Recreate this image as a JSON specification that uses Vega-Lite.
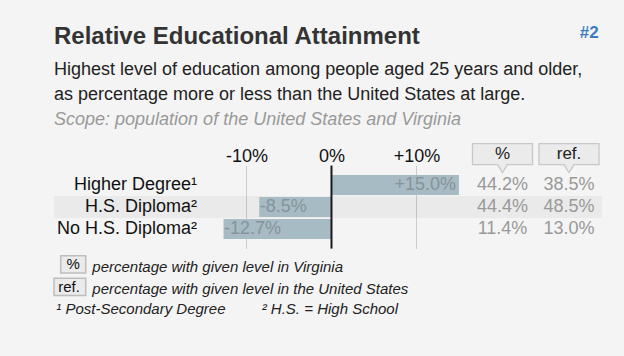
{
  "$schema": "https://vega.github.io/schema/vega-lite/v6.json",
  "background": "#f4f4f4",
  "padding": {"left": 50, "right": 22, "top": 24, "bottom": 40},
  "config": {
    "font": "Liberation Sans",
    "view": {"stroke": null},
    "locale": {"number": {"decimal": ".", "thousands": ",", "grouping": [3], "currency": ["$", ""], "minus": "-"}}
  },
  "datasets": {
    "rows": [
      {"level": "Higher Degree¹", "diff": 0.150, "va": 0.442, "us": 0.385},
      {"level": "H.S. Diploma²", "diff": -0.085, "va": 0.444, "us": 0.485},
      {"level": "No H.S. Diploma²", "diff": -0.127, "va": 0.114, "us": 0.130}
    ],
    "foot": [
      {"line": "va", "key": "%", "text": "percentage with given level in Virginia"},
      {"line": "us", "key": "ref.", "text": "percentage with given level in the United States"},
      {"line": "notes", "key": "1", "text": "¹ Post-Secondary Degree"},
      {"line": "notes", "key": "2", "text": "² H.S. = High School"}
    ]
  },
  "title": {"text": "#2", "anchor": "end", "frame": "bounds", "offset": -17.3, "dx": -3.4, "fontSize": 17, "fontWeight": "bold", "color": "#3b7dc4"},
  "spacing": 5.55,
  "vconcat": [
    {
      "width": 544, "height": 1,
      "data": {"values": []},
      "mark": "text",
      "title": {
        "text": "Relative Educational Attainment",
        "subtitle": ["Highest level of education among people aged 25 years and older,", "as percentage more or less than the United States at large."],
        "anchor": "start", "fontSize": 24, "fontWeight": "bold", "color": "#333333",
        "subtitleFontSize": 18, "subtitleColor": "#222222", "subtitleLineHeight": 25, "subtitlePadding": 12,
        "offset": 0
      }
    },
    {
      "spacing": 2.5,
      "vconcat": [
        {
          "title": {"text": "Scope: population of the United States and Virginia", "anchor": "start", "fontStyle": "italic", "fontWeight": "normal", "fontSize": 18, "color": "#999999", "offset": 11.7},
          "columns": 4,
          "align": "each",
          "bounds": "flush",
          "spacing": {"row": 1, "column": 0},
          "concat": [
            {"width": 150, "height": 21, "data": {"values": []}, "mark": "text"},
            {"width": 265, "height": 21, "data": {"values": []}, "mark": "text"},
            {
              "width": 67, "height": 21,
              "data": {"values": [{"h": "%"}]},
              "layer": [
                {"mark": {"type": "point", "shape": "M-30,-10.5H30V10.5H5L0,18.5L-5,10.5H-30Z", "size": 4, "filled": true, "fill": "#ebebeb", "stroke": "#c8c8c8", "strokeWidth": 1.3, "opacity": 1}},
                {"mark": {"type": "text", "fontSize": 17, "color": "#222222"}, "encoding": {"text": {"field": "h"}}}
              ]
            },
            {
              "width": 66, "height": 21,
              "data": {"values": [{"h": "ref."}]},
              "layer": [
                {"mark": {"type": "point", "shape": "M-30,-10.5H30V10.5H5L0,18.5L-5,10.5H-30Z", "size": 4, "filled": true, "fill": "#ebebeb", "stroke": "#c8c8c8", "strokeWidth": 1.3, "opacity": 1}},
                {"mark": {"type": "text", "fontSize": 17, "color": "#222222"}, "encoding": {"text": {"field": "h"}}}
              ]
            },
            {
              "width": 150, "height": 83,
              "data": {"name": "rows"},
              "transform": [{"filter": "datum.level === 'H.S. Diploma²'"}],
              "mark": {"type": "rect", "color": "#000000", "opacity": 0.04},
              "encoding": {
                "y": {"field": "level", "type": "nominal", "sort": null, "axis": null,
                      "scale": {"domain": ["Higher Degree¹", "H.S. Diploma²", "No H.S. Diploma²"], "paddingInner": 0, "paddingOuter": 0.386}}
              }
            },
            {
              "width": 265, "height": 83,
              "data": {"name": "rows"},
              "encoding": {
                "y": {"field": "level", "type": "nominal", "sort": null,
                      "scale": {"domain": ["Higher Degree¹", "H.S. Diploma²", "No H.S. Diploma²"], "paddingInner": 0, "paddingOuter": 0.386},
                      "axis": {"title": null, "domain": false, "ticks": false, "labelFontSize": 18, "labelColor": "#111111", "labelPadding": 7.5, "labelLimit": 300}}
              },
              "layer": [
                {
                  "transform": [{"filter": "datum.level === 'H.S. Diploma²'"}],
                  "mark": {"type": "rect", "color": "#000000", "opacity": 0.04}
                },
                {
                  "mark": {"type": "bar", "color": "#a6bbc4", "height": {"band": 0.91}},
                  "encoding": {
                    "x": {"field": "diff", "type": "quantitative",
                          "scale": {"domain": [-0.15, 0.1618], "nice": false, "zero": false},
                          "axis": {"orient": "top", "values": [-0.1, 0, 0.1],
                                   "labelExpr": "(datum.value < 0 ? '-' : datum.value > 0 ? '+' : '') + format(abs(datum.value), '.0%')",
                                   "grid": true, "gridColor": "#cccccc", "domain": false, "ticks": false,
                                   "labelFontSize": 18, "labelColor": "#111111", "labelPadding": 0, "title": null}}
                  }
                },
                {
                  "data": {"values": [{"zero": 0}]},
                  "mark": {"type": "rule", "color": "#1a1a1a", "strokeWidth": 2},
                  "encoding": {"x": {"field": "zero", "type": "quantitative"}, "y": null}
                },
                {
                  "transform": [{"filter": "datum.diff > 0"}],
                  "mark": {"type": "text", "align": "right", "dx": -3, "fontSize": 18, "color": "#87939a"},
                  "encoding": {
                    "x": {"field": "diff", "type": "quantitative"},
                    "text": {"field": "diff", "type": "quantitative", "format": "+.1%"}
                  }
                },
                {
                  "transform": [{"filter": "datum.diff < 0"}],
                  "mark": {"type": "text", "align": "left", "dx": 0.5, "fontSize": 18, "color": "#87939a"},
                  "encoding": {
                    "x": {"field": "diff", "type": "quantitative"},
                    "text": {"field": "diff", "type": "quantitative", "format": "+.1%"}
                  }
                }
              ]
            },
            {
              "width": 67, "height": 83,
              "data": {"name": "rows"},
              "encoding": {
                "y": {"field": "level", "type": "nominal", "sort": null, "axis": null,
                      "scale": {"domain": ["Higher Degree¹", "H.S. Diploma²", "No H.S. Diploma²"], "paddingInner": 0, "paddingOuter": 0.386}}
              },
              "layer": [
                {
                  "transform": [{"filter": "datum.level === 'H.S. Diploma²'"}],
                  "mark": {"type": "rect", "color": "#000000", "opacity": 0.04}
                },
                {
                  "mark": {"type": "text", "fontSize": 18, "color": "#999999"},
                  "encoding": {"text": {"field": "va", "type": "quantitative", "format": ".1%"}}
                }
              ]
            },
            {
              "width": 66, "height": 83,
              "data": {"name": "rows"},
              "encoding": {
                "y": {"field": "level", "type": "nominal", "sort": null, "axis": null,
                      "scale": {"domain": ["Higher Degree¹", "H.S. Diploma²", "No H.S. Diploma²"], "paddingInner": 0, "paddingOuter": 0.386}}
              },
              "layer": [
                {
                  "transform": [{"filter": "datum.level === 'H.S. Diploma²'"}],
                  "mark": {"type": "rect", "color": "#000000", "opacity": 0.04}
                },
                {
                  "mark": {"type": "text", "fontSize": 18, "color": "#999999"},
                  "encoding": {"text": {"field": "us", "type": "quantitative", "format": ".1%"}}
                }
              ]
            }
          ]
        },
        {
          "width": 63.4, "height": 67.5,
          "data": {"name": "foot"},
          "encoding": {
            "y": {"field": "line", "type": "nominal", "sort": null, "axis": null,
                  "scale": {"domain": ["va", "us", "notes"], "paddingInner": 0, "paddingOuter": 0}}
          },
          "layer": [
            {
              "transform": [{"filter": "datum.key === '%'"}],
              "mark": {"type": "point", "shape": "M-25,-8.65H0V8.65H-25Z", "size": 4, "filled": true, "fill": "#ebebeb", "stroke": "#bdbdbd", "strokeWidth": 1.5, "opacity": 1}
            },
            {
              "transform": [{"filter": "datum.key === 'ref.'"}],
              "mark": {"type": "point", "shape": "M-31.7,-8.65H0V8.65H-31.7Z", "size": 4, "filled": true, "fill": "#ebebeb", "stroke": "#bdbdbd", "strokeWidth": 1.5, "opacity": 1}
            },
            {
              "transform": [{"filter": "datum.line !== 'notes'"}],
              "mark": {"type": "text", "align": "right", "dx": -5.8, "fontSize": 15, "color": "#111111"},
              "encoding": {"text": {"field": "key"}}
            },
            {
              "transform": [{"filter": "datum.line !== 'notes'"}],
              "mark": {"type": "text", "align": "left", "dx": 6.6, "dy": 2.5, "fontSize": 15, "fontStyle": "italic", "color": "#222222"},
              "encoding": {"text": {"field": "text"}}
            },
            {
              "transform": [{"filter": "datum.key === '1'"}],
              "mark": {"type": "text", "align": "left", "dx": -29.4, "fontSize": 15, "fontStyle": "italic", "color": "#222222"},
              "encoding": {"text": {"field": "text"}}
            },
            {
              "transform": [{"filter": "datum.key === '2'"}],
              "mark": {"type": "text", "align": "left", "dx": 176, "fontSize": 15, "fontStyle": "italic", "color": "#222222"},
              "encoding": {"text": {"field": "text"}}
            }
          ]
        }
      ]
    }
  ]
}
